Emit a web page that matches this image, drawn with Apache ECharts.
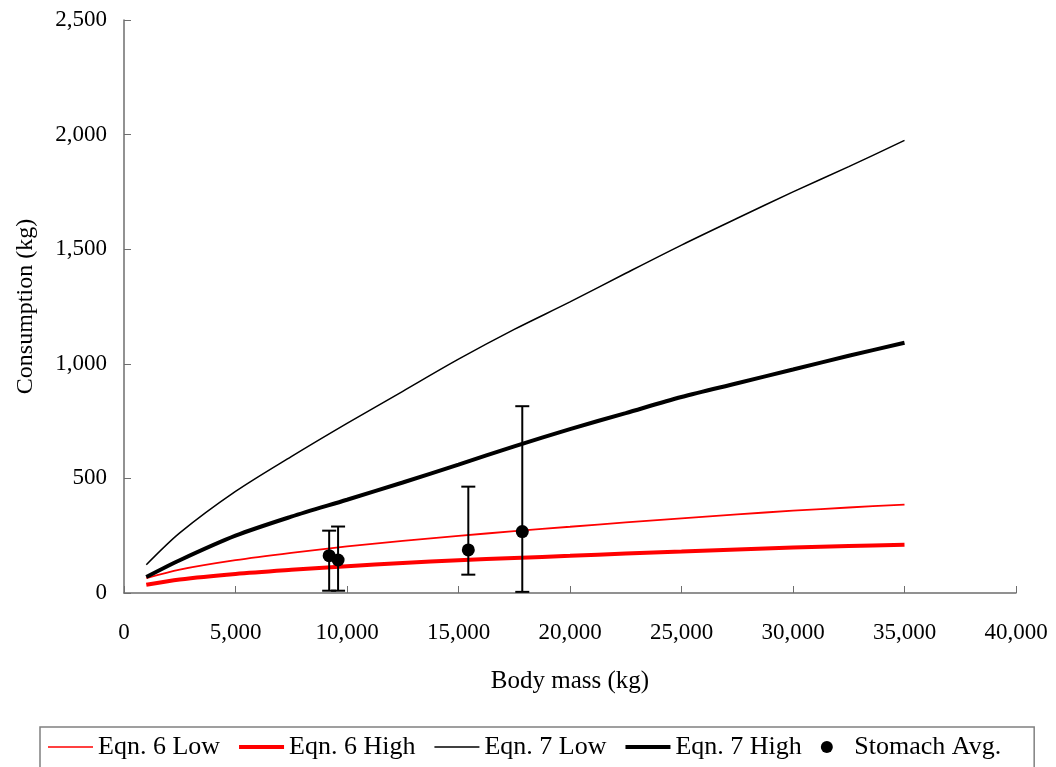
<!DOCTYPE html>
<html><head><meta charset="utf-8">
<script src="https://cdn.jsdelivr.net/npm/echarts@6/dist/echarts.min.js"></script>
<style>html,body{margin:0;padding:0;background:#fff}#c{width:1056px;height:767px}</style>
</head><body><div id="c"></div>
<script>
const bodyMass = [1000, 2500, 5000, 7500, 10000, 12500, 15000, 17500, 20000, 22500, 25000, 27500, 30000, 32500, 35000];
const eqn6Low  = [65, 102, 143, 175, 203, 227, 249, 270, 289, 308, 326, 343, 359, 373, 386];
const eqn6High = [36, 59, 83, 101, 117, 131, 143, 153, 162, 172, 181, 190, 198, 205, 211];
const eqn7Low  = [123, 262, 443, 595, 740, 880, 1020, 1150, 1270, 1395, 1518, 1635, 1750, 1860, 1975];
const eqn7High = [70, 143, 250, 333, 407, 482, 560, 640, 715, 785, 855, 915, 975, 1035, 1092];
const stomachX    = [9200, 9600, 15440, 17860];
const stomachAvg  = [163, 144, 188, 268];
const stomachLow  = [10, 10, 80, 5];
const stomachHigh = [272, 290, 464, 815];
const seriesNames = ['Eqn. 6 Low', 'Eqn. 6 High', 'Eqn. 7 Low', 'Eqn. 7 High', 'Stomach Avg.'];

const FONT = '"Liberation Serif", "Times New Roman", serif';
const pair = (ys) => bodyMass.map((x, i) => [x, ys[i]]);

const chart = echarts.init(document.getElementById('c'));
chart.setOption({
  animation: false,
  backgroundColor: '#fff',
  grid: { left: 124, right: 40, top: 20, bottom: 174, containLabel: false },
  xAxis: {
    type: 'value', min: 0, max: 40000, interval: 5000,
    name: 'Body mass (kg)', nameLocation: 'middle', nameGap: 76,
    nameTextStyle: { fontFamily: FONT, fontSize: 25, color: '#000' },
    axisLine: { show: true, lineStyle: { color: '#6e6e6e', width: 1.5 } },
    axisTick: { show: true, inside: true, length: 7, lineStyle: { color: '#6e6e6e' } },
    axisLabel: { fontFamily: FONT, fontSize: 23, color: '#000', margin: 28,
      formatter: v => v.toLocaleString('en-US') },
    splitLine: { show: false }
  },
  yAxis: {
    type: 'value', min: 0, max: 2500, interval: 500,
    name: 'Consumption (kg)', nameLocation: 'middle', nameGap: 86, nameRotate: 90,
    nameTextStyle: { fontFamily: FONT, fontSize: 24, color: '#000' },
    axisLine: { show: true, lineStyle: { color: '#6e6e6e', width: 1.5 } },
    axisTick: { show: true, inside: true, length: 7, lineStyle: { color: '#6e6e6e' } },
    axisLabel: { fontFamily: FONT, fontSize: 23, color: '#000', margin: 17,
      formatter: v => v.toLocaleString('en-US') },
    splitLine: { show: false }
  },
  legend: {
    top: 727, left: 40,
    padding: [7, 33, 20, 8],
    borderColor: '#808080', borderWidth: 1.5,
    itemWidth: 45, itemHeight: 12, itemGap: 19,
    textStyle: { fontFamily: FONT, fontSize: 26, color: '#000' },
    data: [
      { name: seriesNames[0], icon: 'path://M0,0H45V1.5H0Z' },
      { name: seriesNames[1], icon: 'path://M0,0H45V4H0Z' },
      { name: seriesNames[2], icon: 'path://M0,0H45V1.5H0Z' },
      { name: seriesNames[3], icon: 'path://M0,0H45V4H0Z' },
      { name: seriesNames[4], icon: 'circle', itemStyle: { color: '#000', opacity: 1 } }
    ]
  },
  series: [
    { name: seriesNames[0], type: 'line', data: pair(eqn6Low), showSymbol: false, symbol: 'none', smooth: 0.3,
      lineStyle: { color: '#ff0000', width: 1.8 }, itemStyle: { color: '#ff0000' } },
    { name: seriesNames[1], type: 'line', data: pair(eqn6High), showSymbol: false, symbol: 'none', smooth: 0.3,
      lineStyle: { color: '#ff0000', width: 4 }, itemStyle: { color: '#ff0000' } },
    { name: seriesNames[2], type: 'line', data: pair(eqn7Low), showSymbol: false, symbol: 'none', smooth: 0.3,
      lineStyle: { color: '#000', width: 1.5 }, itemStyle: { color: '#000' } },
    { name: seriesNames[3], type: 'line', data: pair(eqn7High), showSymbol: false, symbol: 'none', smooth: 0.3,
      lineStyle: { color: '#000', width: 4 }, itemStyle: { color: '#000' } },
    { name: 'errbars', type: 'custom', z: 5,
      data: stomachX.map((x, i) => [x, stomachLow[i], stomachHigh[i]]),
      renderItem: (params, api) => {
        const lo = api.coord([api.value(0), api.value(1)]);
        const hi = api.coord([api.value(0), api.value(2)]);
        const w = 7;
        const st = { stroke: '#000', lineWidth: 2 };
        return { type: 'group', children: [
          { type: 'line', shape: { x1: lo[0], y1: lo[1], x2: hi[0], y2: hi[1] }, style: st },
          { type: 'line', shape: { x1: lo[0]-w, y1: lo[1], x2: lo[0]+w, y2: lo[1] }, style: st },
          { type: 'line', shape: { x1: hi[0]-w, y1: hi[1], x2: hi[0]+w, y2: hi[1] }, style: st }
        ]};
      }
    },
    { name: seriesNames[4], type: 'scatter', z: 6, symbol: 'circle', symbolSize: 13,
      data: stomachX.map((x, i) => [x, stomachAvg[i]]),
      itemStyle: { color: '#000', opacity: 1 } }
  ]
});
</script></body></html>
